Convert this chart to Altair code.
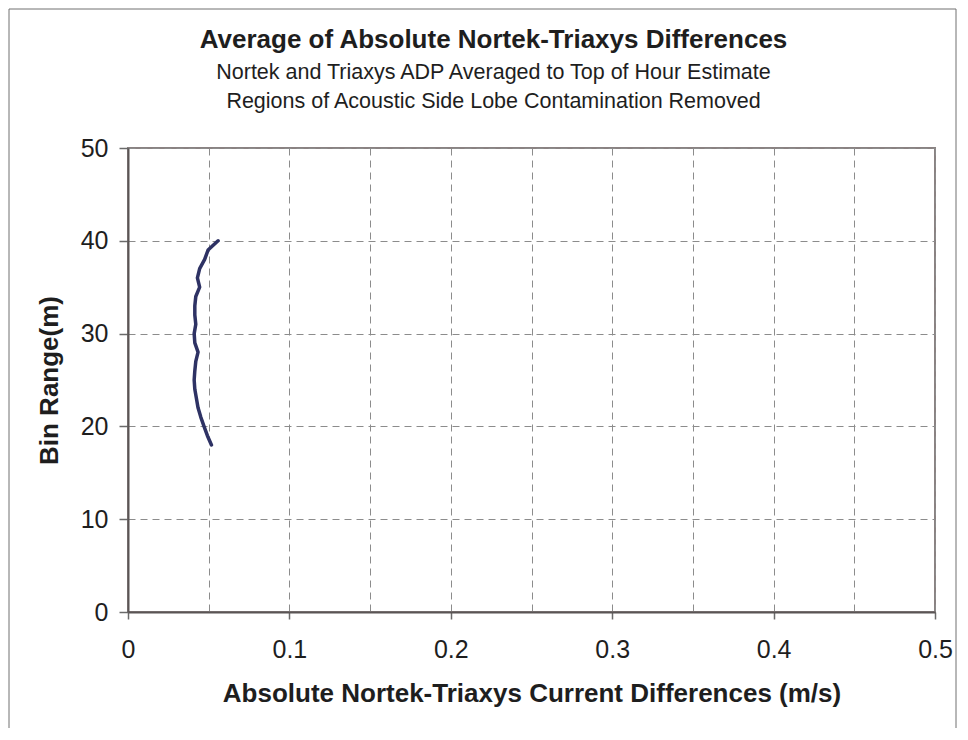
import altair as alt
import pandas as pd

# ---- data ----
bin_range = [18, 19, 20, 21, 22, 23, 24, 25, 26, 27, 28, 29,
             30, 31, 32, 33, 34, 35, 36, 37, 38, 39, 40]
abs_diff = [0.0517, 0.0492, 0.0471, 0.0451, 0.0434, 0.0424, 0.0414, 0.0410,
            0.0414, 0.0420, 0.0434, 0.0414, 0.0410, 0.0420, 0.0414, 0.0414,
            0.0420, 0.0444, 0.0430, 0.0444, 0.0475, 0.0496, 0.0558]
x_grid_values = [0, 0.05, 0.1, 0.15, 0.2, 0.25, 0.3, 0.35, 0.4, 0.45, 0.5]
y_tick_values = [0, 10, 20, 30, 40, 50]
title_lines = [
    "Average of Absolute Nortek-Triaxys Differences",
    "Nortek and Triaxys ADP Averaged to Top of Hour Estimate",
    "Regions of Acoustic Side Lobe Contamination Removed",
]
x_title = "Absolute Nortek-Triaxys Current Differences (m/s)"
y_title = "Bin Range(m)"

FONT = "Liberation Sans"
TXT = "#1e1e1e"
GRID = "#8c8c8c"
FRAME = "#707070"

df = pd.DataFrame({"bin": bin_range, "diff": abs_diff})

line = alt.Chart(df).mark_line(
    color="#2E3264", strokeWidth=3.5, strokeJoin="round", strokeCap="round"
).encode(
    x=alt.X(
        "diff:Q",
        scale=alt.Scale(domain=[0, 0.5], nice=False, zero=True),
        axis=alt.Axis(
            values=x_grid_values,
            format="~g",
            labelExpr="round(datum.value*100) % 10 == 0 ? datum.label : ''",
            tickOpacity={"condition": {"test": "round(datum.value*100) % 10 != 0", "value": 0}, "value": 1},
            grid=True, gridColor=GRID, gridDash=[7, 5], gridWidth=1,
            domainColor="#5a5555", domainWidth=2,
            tickColor="#6a6a6a", tickSize=7, tickWidth=1.5,
            labelFont=FONT, labelFontSize=25, labelColor=TXT, labelPadding=18,
            labelFlush=False,
            title=x_title, titleFont=FONT, titleFontSize=26, titleFontWeight="bold",
            titleColor=TXT, titlePadding=18,
        ),
    ),
    y=alt.Y(
        "bin:Q",
        scale=alt.Scale(domain=[0, 50], nice=False),
        axis=alt.Axis(
            values=y_tick_values,
            grid=True, gridColor=GRID, gridDash=[7, 5], gridWidth=1,
            domainColor="#5a5555", domainWidth=2,
            tickColor="#6a6a6a", tickSize=9, tickWidth=1.5,
            labelFont=FONT, labelFontSize=25, labelColor=TXT, labelPadding=11,
            labelFlush=False,
            title=y_title, titleFont=FONT, titleFontSize=26, titleFontWeight="bold",
            titleColor=TXT, titlePadding=18,
        ),
    ),
    order=alt.Order("bin:Q"),
)

one = pd.DataFrame({"a": [0]})


def text_line(s, size, weight, y):
    return alt.Chart(pd.DataFrame({"t": [s]})).mark_text(
        font=FONT, fontSize=size, fontWeight=weight, color=TXT,
        align="center", baseline="alphabetic",
    ).encode(text="t:N", x=alt.value(365.5), y=alt.value(y))


t1 = text_line(title_lines[0], 26, "bold", -100.5)
t2 = text_line(title_lines[1], 21.5, "normal", -69.5)
t3 = text_line(title_lines[2], 21.5, "normal", -40.5)

frame_left = alt.Chart(one).mark_rule(color=FRAME, strokeWidth=1).encode(
    x=alt.value(-119), y=alt.value(-139), y2=alt.value(580))
frame_top = alt.Chart(one).mark_rule(color=FRAME, strokeWidth=1).encode(
    x=alt.value(-119), x2=alt.value(828), y=alt.value(-139))
frame_right = alt.Chart(one).mark_rule(color=FRAME, strokeWidth=1).encode(
    x=alt.value(828), y=alt.value(-139), y2=alt.value(580))

chart = alt.layer(
    line, t1, t2, t3, frame_left, frame_top, frame_right
).properties(
    width=807, height=464, padding=0, background="white"
).configure_view(
    stroke="#8a8282", strokeWidth=2
)

chart.save("out.html", embed_options={"renderer": "svg", "actions": False})
